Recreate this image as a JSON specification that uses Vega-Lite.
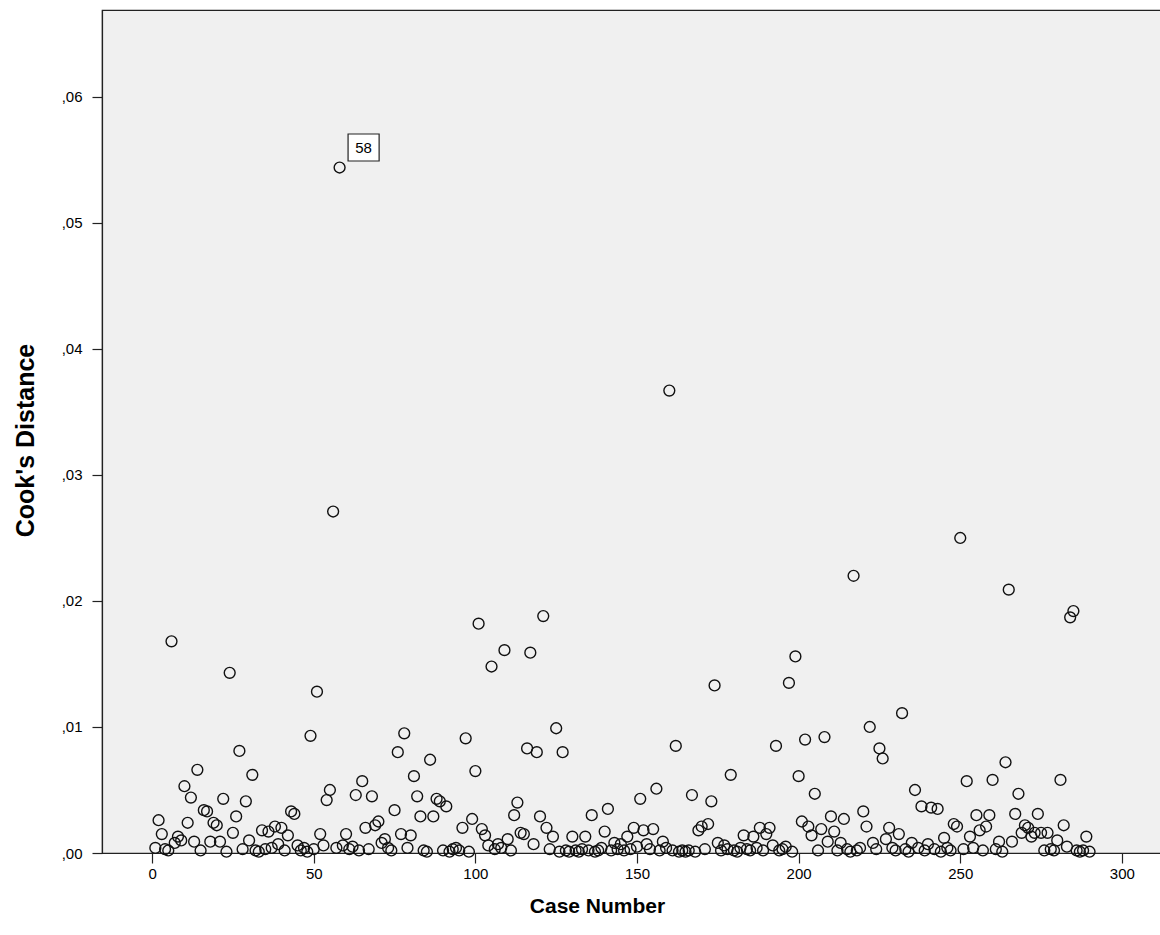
{
  "$schema": "https://vega.github.io/schema/vega-lite/v6.json",
  "width": 1059,
  "height": 843,
  "autosize": {"type": "none"},
  "padding": {"left": 102, "top": 10, "right": 0, "bottom": 82},
  "background": "white",
  "config": {
    "view": {"fill": "#f0f0f0", "stroke": "#222222", "strokeWidth": 1.2},
    "font": "Liberation Sans"
  },
  "data": {"values": [
    {"case":1,"cook":0.0004},{"case":2,"cook":0.0026},{"case":3,"cook":0.0015},{"case":4,"cook":0.0003},{"case":5,"cook":0.0002},
    {"case":6,"cook":0.0168},{"case":7,"cook":0.0008},{"case":8,"cook":0.0013},{"case":9,"cook":0.0010},{"case":10,"cook":0.0053},
    {"case":11,"cook":0.0024},{"case":12,"cook":0.0044},{"case":13,"cook":0.0009},{"case":14,"cook":0.0066},{"case":15,"cook":0.0002},
    {"case":16,"cook":0.0034},{"case":17,"cook":0.0033},{"case":18,"cook":0.0009},{"case":19,"cook":0.0024},{"case":20,"cook":0.0022},
    {"case":21,"cook":0.0009},{"case":22,"cook":0.0043},{"case":23,"cook":0.0001},{"case":24,"cook":0.0143},{"case":25,"cook":0.0016},
    {"case":26,"cook":0.0029},{"case":27,"cook":0.0081},{"case":28,"cook":0.0003},{"case":29,"cook":0.0041},{"case":30,"cook":0.0010},
    {"case":31,"cook":0.0062},{"case":32,"cook":0.0002},{"case":33,"cook":0.0001},{"case":34,"cook":0.0018},{"case":35,"cook":0.0003},
    {"case":36,"cook":0.0017},{"case":37,"cook":0.0004},{"case":38,"cook":0.0021},{"case":39,"cook":0.0007},{"case":40,"cook":0.0020},
    {"case":41,"cook":0.0002},{"case":42,"cook":0.0014},{"case":43,"cook":0.0033},{"case":44,"cook":0.0031},{"case":45,"cook":0.0006},
    {"case":46,"cook":0.0002},{"case":47,"cook":0.0004},{"case":48,"cook":0.0001},{"case":49,"cook":0.0093},{"case":50,"cook":0.0003},
    {"case":51,"cook":0.0128},{"case":52,"cook":0.0015},{"case":53,"cook":0.0006},{"case":54,"cook":0.0042},{"case":55,"cook":0.0050},
    {"case":56,"cook":0.0271},{"case":57,"cook":0.0004},{"case":58,"cook":0.0544},{"case":59,"cook":0.0006},{"case":60,"cook":0.0015},
    {"case":61,"cook":0.0003},{"case":62,"cook":0.0005},{"case":63,"cook":0.0046},{"case":64,"cook":0.0002},{"case":65,"cook":0.0057},
    {"case":66,"cook":0.0020},{"case":67,"cook":0.0003},{"case":68,"cook":0.0045},{"case":69,"cook":0.0022},{"case":70,"cook":0.0025},
    {"case":71,"cook":0.0008},{"case":72,"cook":0.0011},{"case":73,"cook":0.0004},{"case":74,"cook":0.0002},{"case":75,"cook":0.0034},
    {"case":76,"cook":0.0080},{"case":77,"cook":0.0015},{"case":78,"cook":0.0095},{"case":79,"cook":0.0004},{"case":80,"cook":0.0014},
    {"case":81,"cook":0.0061},{"case":82,"cook":0.0045},{"case":83,"cook":0.0029},{"case":84,"cook":0.0002},{"case":85,"cook":0.0001},
    {"case":86,"cook":0.0074},{"case":87,"cook":0.0029},{"case":88,"cook":0.0043},{"case":89,"cook":0.0041},{"case":90,"cook":0.0002},
    {"case":91,"cook":0.0037},{"case":92,"cook":0.0001},{"case":93,"cook":0.0003},{"case":94,"cook":0.0004},{"case":95,"cook":0.0002},
    {"case":96,"cook":0.0020},{"case":97,"cook":0.0091},{"case":98,"cook":0.0001},{"case":99,"cook":0.0027},{"case":100,"cook":0.0065},
    {"case":101,"cook":0.0182},{"case":102,"cook":0.0019},{"case":103,"cook":0.0014},{"case":104,"cook":0.0006},{"case":105,"cook":0.0148},
    {"case":106,"cook":0.0003},{"case":107,"cook":0.0007},{"case":108,"cook":0.0004},{"case":109,"cook":0.0161},{"case":110,"cook":0.0011},
    {"case":111,"cook":0.0002},{"case":112,"cook":0.0030},{"case":113,"cook":0.0040},{"case":114,"cook":0.0016},{"case":115,"cook":0.0015},
    {"case":116,"cook":0.0083},{"case":117,"cook":0.0159},{"case":118,"cook":0.0007},{"case":119,"cook":0.0080},{"case":120,"cook":0.0029},
    {"case":121,"cook":0.0188},{"case":122,"cook":0.0020},{"case":123,"cook":0.0003},{"case":124,"cook":0.0013},{"case":125,"cook":0.0099},
    {"case":126,"cook":0.0001},{"case":127,"cook":0.0080},{"case":128,"cook":0.0002},{"case":129,"cook":0.0001},{"case":130,"cook":0.0013},
    {"case":131,"cook":0.0002},{"case":132,"cook":0.0001},{"case":133,"cook":0.0003},{"case":134,"cook":0.0013},{"case":135,"cook":0.0002},
    {"case":136,"cook":0.0030},{"case":137,"cook":0.0001},{"case":138,"cook":0.0002},{"case":139,"cook":0.0004},{"case":140,"cook":0.0017},
    {"case":141,"cook":0.0035},{"case":142,"cook":0.0002},{"case":143,"cook":0.0008},{"case":144,"cook":0.0003},{"case":145,"cook":0.0007},
    {"case":146,"cook":0.0002},{"case":147,"cook":0.0013},{"case":148,"cook":0.0003},{"case":149,"cook":0.0020},{"case":150,"cook":0.0005},
    {"case":151,"cook":0.0043},{"case":152,"cook":0.0018},{"case":153,"cook":0.0007},{"case":154,"cook":0.0003},{"case":155,"cook":0.0019},
    {"case":156,"cook":0.0051},{"case":157,"cook":0.0002},{"case":158,"cook":0.0009},{"case":159,"cook":0.0004},{"case":160,"cook":0.0367},
    {"case":161,"cook":0.0002},{"case":162,"cook":0.0085},{"case":163,"cook":0.0001},{"case":164,"cook":0.0002},{"case":165,"cook":0.0001},
    {"case":166,"cook":0.0002},{"case":167,"cook":0.0046},{"case":168,"cook":0.0001},{"case":169,"cook":0.0018},{"case":170,"cook":0.0021},
    {"case":171,"cook":0.0003},{"case":172,"cook":0.0023},{"case":173,"cook":0.0041},{"case":174,"cook":0.0133},{"case":175,"cook":0.0008},
    {"case":176,"cook":0.0002},{"case":177,"cook":0.0006},{"case":178,"cook":0.0003},{"case":179,"cook":0.0062},{"case":180,"cook":0.0002},
    {"case":181,"cook":0.0001},{"case":182,"cook":0.0004},{"case":183,"cook":0.0014},{"case":184,"cook":0.0003},{"case":185,"cook":0.0002},
    {"case":186,"cook":0.0013},{"case":187,"cook":0.0004},{"case":188,"cook":0.0020},{"case":189,"cook":0.0002},{"case":190,"cook":0.0015},
    {"case":191,"cook":0.0020},{"case":192,"cook":0.0006},{"case":193,"cook":0.0085},{"case":194,"cook":0.0002},{"case":195,"cook":0.0003},
    {"case":196,"cook":0.0005},{"case":197,"cook":0.0135},{"case":198,"cook":0.0001},{"case":199,"cook":0.0156},{"case":200,"cook":0.0061},
    {"case":201,"cook":0.0025},{"case":202,"cook":0.0090},{"case":203,"cook":0.0021},{"case":204,"cook":0.0014},{"case":205,"cook":0.0047},
    {"case":206,"cook":0.0002},{"case":207,"cook":0.0019},{"case":208,"cook":0.0092},{"case":209,"cook":0.0009},{"case":210,"cook":0.0029},
    {"case":211,"cook":0.0017},{"case":212,"cook":0.0002},{"case":213,"cook":0.0008},{"case":214,"cook":0.0027},{"case":215,"cook":0.0003},
    {"case":216,"cook":0.0001},{"case":217,"cook":0.0220},{"case":218,"cook":0.0002},{"case":219,"cook":0.0004},{"case":220,"cook":0.0033},
    {"case":221,"cook":0.0021},{"case":222,"cook":0.0100},{"case":223,"cook":0.0008},{"case":224,"cook":0.0003},{"case":225,"cook":0.0083},
    {"case":226,"cook":0.0075},{"case":227,"cook":0.0011},{"case":228,"cook":0.0020},{"case":229,"cook":0.0004},{"case":230,"cook":0.0002},
    {"case":231,"cook":0.0015},{"case":232,"cook":0.0111},{"case":233,"cook":0.0003},{"case":234,"cook":0.0001},{"case":235,"cook":0.0008},
    {"case":236,"cook":0.0050},{"case":237,"cook":0.0004},{"case":238,"cook":0.0037},{"case":239,"cook":0.0002},{"case":240,"cook":0.0007},
    {"case":241,"cook":0.0036},{"case":242,"cook":0.0003},{"case":243,"cook":0.0035},{"case":244,"cook":0.0001},{"case":245,"cook":0.0012},
    {"case":246,"cook":0.0004},{"case":247,"cook":0.0002},{"case":248,"cook":0.0023},{"case":249,"cook":0.0021},{"case":250,"cook":0.0250},
    {"case":251,"cook":0.0003},{"case":252,"cook":0.0057},{"case":253,"cook":0.0013},{"case":254,"cook":0.0004},{"case":255,"cook":0.0030},
    {"case":256,"cook":0.0018},{"case":257,"cook":0.0002},{"case":258,"cook":0.0021},{"case":259,"cook":0.0030},{"case":260,"cook":0.0058},
    {"case":261,"cook":0.0003},{"case":262,"cook":0.0009},{"case":263,"cook":0.0001},{"case":264,"cook":0.0072},{"case":265,"cook":0.0209},
    {"case":266,"cook":0.0009},{"case":267,"cook":0.0031},{"case":268,"cook":0.0047},{"case":269,"cook":0.0016},{"case":270,"cook":0.0022},
    {"case":271,"cook":0.0020},{"case":272,"cook":0.0013},{"case":273,"cook":0.0016},{"case":274,"cook":0.0031},{"case":275,"cook":0.0016},
    {"case":276,"cook":0.0002},{"case":277,"cook":0.0016},{"case":278,"cook":0.0003},{"case":279,"cook":0.0002},{"case":280,"cook":0.0010},
    {"case":281,"cook":0.0058},{"case":282,"cook":0.0022},{"case":283,"cook":0.0005},{"case":284,"cook":0.0187},{"case":285,"cook":0.0192},
    {"case":286,"cook":0.0002},{"case":287,"cook":0.0001},{"case":288,"cook":0.0002},{"case":289,"cook":0.0013},{"case":290,"cook":0.0001}
  ]},
  "encoding": {
    "x": {
      "field": "case", "type": "quantitative",
      "scale": {"domain": [-15.5, 312.1], "nice": false, "zero": false},
      "axis": {
        "values": [0, 50, 100, 150, 200, 250, 300],
        "grid": false, "tickSize": 10, "tickColor": "#222222", "tickWidth": 1.2, "domainColor": "#222222", "domainWidth": 1.2,
        "labelFontSize": 15, "labelColor": "#000000", "labelPadding": 3, "labelFlush": false,
        "title": "Case Number", "titleFontSize": 21, "titleFontWeight": "bold", "titleColor": "#000000",
        "titleX": 495, "titleY": 53, "titleAlign": "center", "titleBaseline": "middle"
      }
    },
    "y": {
      "field": "cook", "type": "quantitative",
      "scale": {"domain": [0, 0.0669], "nice": false, "zero": false},
      "axis": {
        "values": [0, 0.01, 0.02, 0.03, 0.04, 0.05, 0.06],
        "labelExpr": "replace(format(datum.value, '.2f'), '0.', ',')",
        "grid": false, "tickSize": 10, "tickColor": "#222222", "tickWidth": 1.2, "domainColor": "#222222", "domainWidth": 1.2,
        "labelFontSize": 15, "labelColor": "#000000", "labelPadding": 10, "labelFlush": false,
        "title": "Cook's Distance", "titleFontSize": 25, "titleFontWeight": "bold", "titleColor": "#000000",
        "titleX": -77, "titleY": 430, "titleAngle": -90, "titleAlign": "center", "titleBaseline": "middle"
      }
    }
  },
  "layer": [
    {
      "mark": {"type": "point", "shape": "circle", "filled": false, "size": 118, "stroke": "#111111", "strokeWidth": 1.4, "opacity": 1}
    },
    {
      "transform": [{"filter": "datum.case == 58"}],
      "mark": {"type": "point", "shape": "M-1.15,-1L1.15,-1L1.15,1L-1.15,1Z", "filled": true, "fill": "#ffffff", "stroke": "#222222", "strokeWidth": 1.2, "size": 729, "xOffset": 24, "yOffset": -20, "opacity": 1}
    },
    {
      "transform": [{"filter": "datum.case == 58"}],
      "mark": {"type": "text", "fontSize": 15, "color": "#000000", "align": "center", "baseline": "middle", "xOffset": 24, "yOffset": -20},
      "encoding": {"text": {"field": "case", "type": "nominal"}}
    }
  ]
}
